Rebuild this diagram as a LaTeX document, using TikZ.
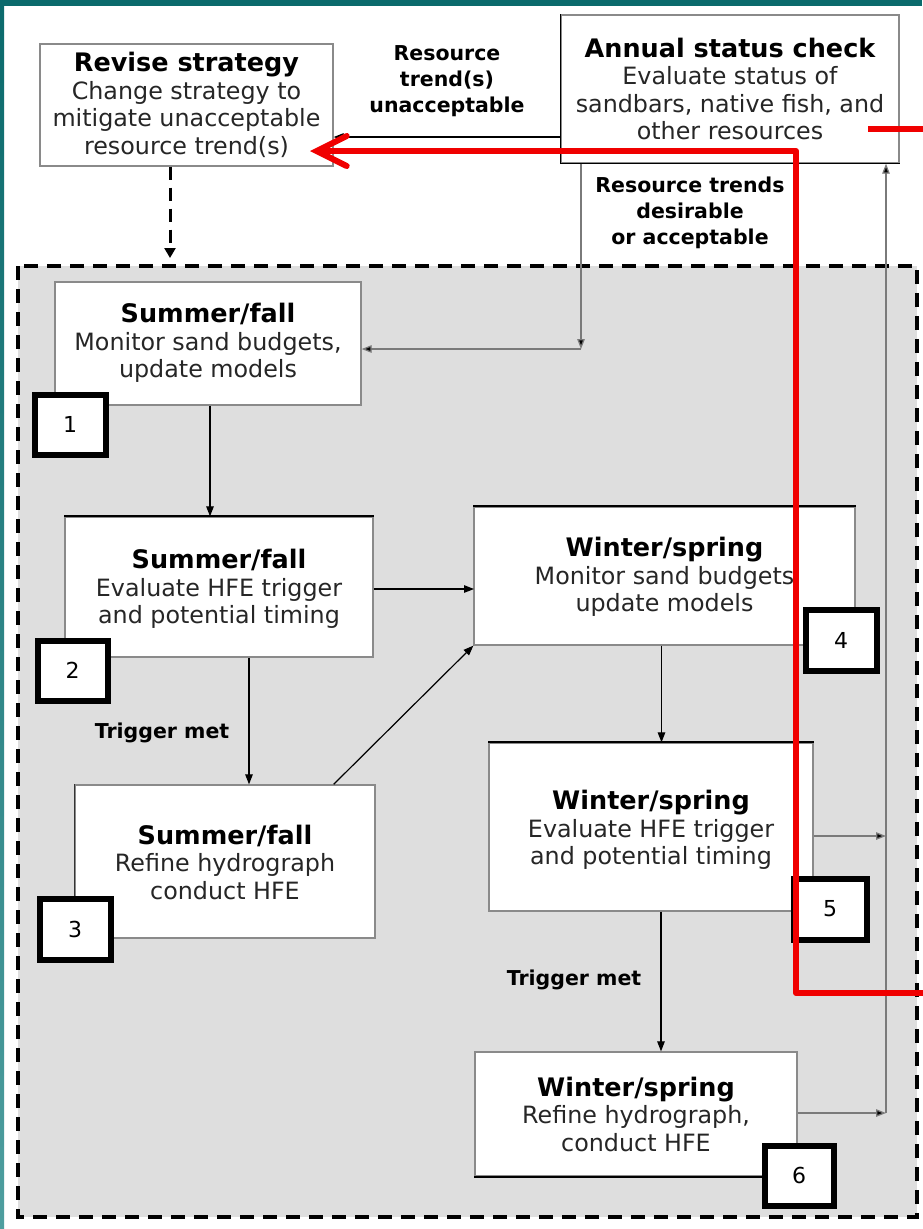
\documentclass[tikz,border=0pt]{standalone}
\usepackage{fontspec}
\setmainfont{DejaVu Sans}
\usetikzlibrary{arrows.meta}
\definecolor{tealframe}{HTML}{0B6A6C}
\definecolor{teallight}{HTML}{4E9E9F}
\definecolor{panelgray}{HTML}{DEDEDE}
\definecolor{boxedge}{HTML}{8A8A8A}
\definecolor{linegray}{HTML}{7A7A7A}
\definecolor{txtcol}{HTML}{262626}
\definecolor{annored}{HTML}{F00000}
\newcommand\boxtitle[1]{{\bfseries\fontsize{25.5}{28}\selectfont\color{black}#1}}
\begin{document}
\begin{tikzpicture}[x=1pt,y=-1pt,
  box/.style={draw=boxedge, line width=1.3pt, fill=white, inner sep=0pt},
  badge/.style={draw=black, line width=6pt, fill=white, inner sep=0pt,
    font=\fontsize{22}{22}\selectfont},
  body/.style={font=\fontsize{23.8}{27.5}\selectfont, align=center, inner sep=0pt, text=txtcol},
  lbl/.style={font=\bfseries\fontsize{20.5}{26}\selectfont, align=center, inner sep=0pt, text=black},
  arr/.style={draw=black, line width=1.2pt, -{Triangle[length=10pt,width=7.5pt]}},
  garr/.style={draw=linegray, line width=1.3pt, -{Triangle[length=10pt,width=7.5pt,fill=black]}},
  dasharr/.style={draw=black, line width=3pt, dash pattern=on 13pt off 8pt, -{Triangle[length=10pt,width=11pt]}},
  redline/.style={draw=annored, line width=6pt, line join=round},
  redarr/.style={draw=annored, line width=6pt, line join=round, -{Straight Barb[length=30pt,width=30pt,line cap=round]}}
]
\useasboundingbox (0,0) rectangle (922,1229);
\fill[white] (0,0) rectangle (922,1229);
% teal frame
\fill[tealframe] (0,0) rectangle (922,6);
\shade[top color=tealframe, bottom color=teallight] (0,0) rectangle (4,1229);

% panel
\draw[fill=panelgray, line width=3.5pt, dash pattern=on 14pt off 9pt] (18,266) rectangle (917,1217);

% boxes
\node[box, minimum width=293pt, minimum height=122pt] (revise) at (186.5,105) {};
\node[box, minimum width=338pt, minimum height=148pt] (annual) at (730,89) {};
\node[box, minimum width=306pt, minimum height=123pt] (b1) at (208,343.5) {};
\node[box, minimum width=308pt, minimum height=140pt] (b2) at (219,587) {};
\node[box, minimum width=300pt, minimum height=153pt] (b3) at (225,861.5) {};
\node[box, minimum width=381pt, minimum height=138pt] (b4) at (664.5,576) {};
\node[box, minimum width=324pt, minimum height=168pt] (b5) at (651,827) {};
\node[box, minimum width=322pt, minimum height=124pt] (b6) at (636,1114) {};

% darker edges
\draw[black, line width=1.6pt] (annual.south west) -- (annual.south east);
\draw[black, line width=1.3pt] (annual.south west) -- (annual.north west);
\draw[black, line width=1.8pt] (b2.north west) -- (b2.north east);
\draw[black, line width=1.8pt] (b4.north west) -- (b4.north east);
\draw[black, line width=1.8pt] (b5.north west) -- (b5.north east);
\draw[black, line width=1.8pt] (b6.south west) -- (b6.south east);
\draw[black!80, line width=1.4pt] (b3.south west) -- (b3.north west);

% box texts
\node[body] (trevise) at (186.5,105) {\boxtitle{Revise strategy}\\Change strategy to\\mitigate unacceptable\\resource trend(s)};
\node[body] (tannual) at (730,89) {\boxtitle{Annual status check}\\Evaluate status of\\sandbars, native fish, and\\other resources};
\node[body] (tb1) at (208,343) {\boxtitle{Summer/fall}\\Monitor sand budgets,\\update models};
\node[body] (tb2) at (219,589) {\boxtitle{Summer/fall}\\Evaluate HFE trigger\\and potential timing};
\node[body] (tb3) at (225,862) {\boxtitle{Summer/fall}\\Refine hydrograph\\conduct HFE};
\node[body] (tb4) at (664.5,577) {\boxtitle{Winter/spring}\\Monitor sand budgets\\update models};
\node[body] (tb5) at (651,830) {\boxtitle{Winter/spring}\\Evaluate HFE trigger\\and potential timing};
\node[body] (tb6) at (636,1114) {\boxtitle{Winter/spring}\\Refine hydrograph,\\conduct HFE};

% labels
\node[lbl] (lunacc) at (447,81) {Resource\\trend(s)\\unacceptable};
\node[lbl] (lacc) at (690,213) {Resource trends\\desirable\\or acceptable};
\node[lbl] (ltrig1) at (162,733) {Trigger met};
\node[lbl] (ltrig2) at (574,980) {Trigger met};

% coordinates
\coordinate (h0) at (447,137);
\coordinate (dtip) at (170,258);
\coordinate (c1) at (581,349);
\coordinate (h24) at (474,589);
\coordinate (r5) at (886,836);
\coordinate (v6) at (886,1113);

% connectors
\draw[arr] (annual.west |- h0) -- (revise.east |- h0);
\draw[dasharr] (revise.south -| dtip) -- (dtip);
\draw[garr] (annual.south -| c1) -- (c1);
\draw[garr] (c1) -- (b1.east |- c1);
\draw[arr] ([xshift=2pt]b1.south) -- ([xshift=2pt]b1.south |- b2.north);
\draw[arr] ([xshift=30pt]b2.south) -- ([xshift=30pt]b2.south |- b3.north);
\draw[arr] ([xshift=-42pt]b3.north east) -- (b4.south west);
\draw[arr] (b2.east |- h24) -- (h24);
\draw[arr] ([xshift=-3pt]b4.south) -- ([xshift=-3pt]b4.south |- b5.north);
\draw[arr] ([xshift=10pt]b5.south) -- ([xshift=10pt]b5.south |- b6.north);
\draw[garr] (b5.east |- r5) -- (r5);
\draw[garr] (b6.east |- v6) -- (v6);
\draw[garr] (v6) -- (annual.south -| v6);

% badges
\node[badge, minimum width=71pt, minimum height=60pt] (n1) at (70,424.5) {1};
\node[badge, minimum width=70pt, minimum height=60pt] (n2) at (72.5,670.5) {2};
\node[badge, minimum width=71pt, minimum height=61pt] (n3) at (75,929) {3};
\node[badge, minimum width=71pt, minimum height=61pt] (n4) at (841,640) {4};
\node[badge, minimum width=73pt, minimum height=61pt] (n5) at (830,909) {5};
\node[badge, minimum width=69pt, minimum height=60pt] (n6) at (799,1175.5) {6};

% red annotations
\coordinate (redA) at (925,993);
\coordinate (redB) at (796,993);
\coordinate (redC) at (796,151);
\coordinate (redD) at (310,151);
\coordinate (redE) at (868,129);
\coordinate (redF) at (925,129);
\draw[redarr] (redA) -- (redB) -- (redC) -- (redD);
\draw[redline] (redE) -- (redF);
\end{tikzpicture}
\end{document}
